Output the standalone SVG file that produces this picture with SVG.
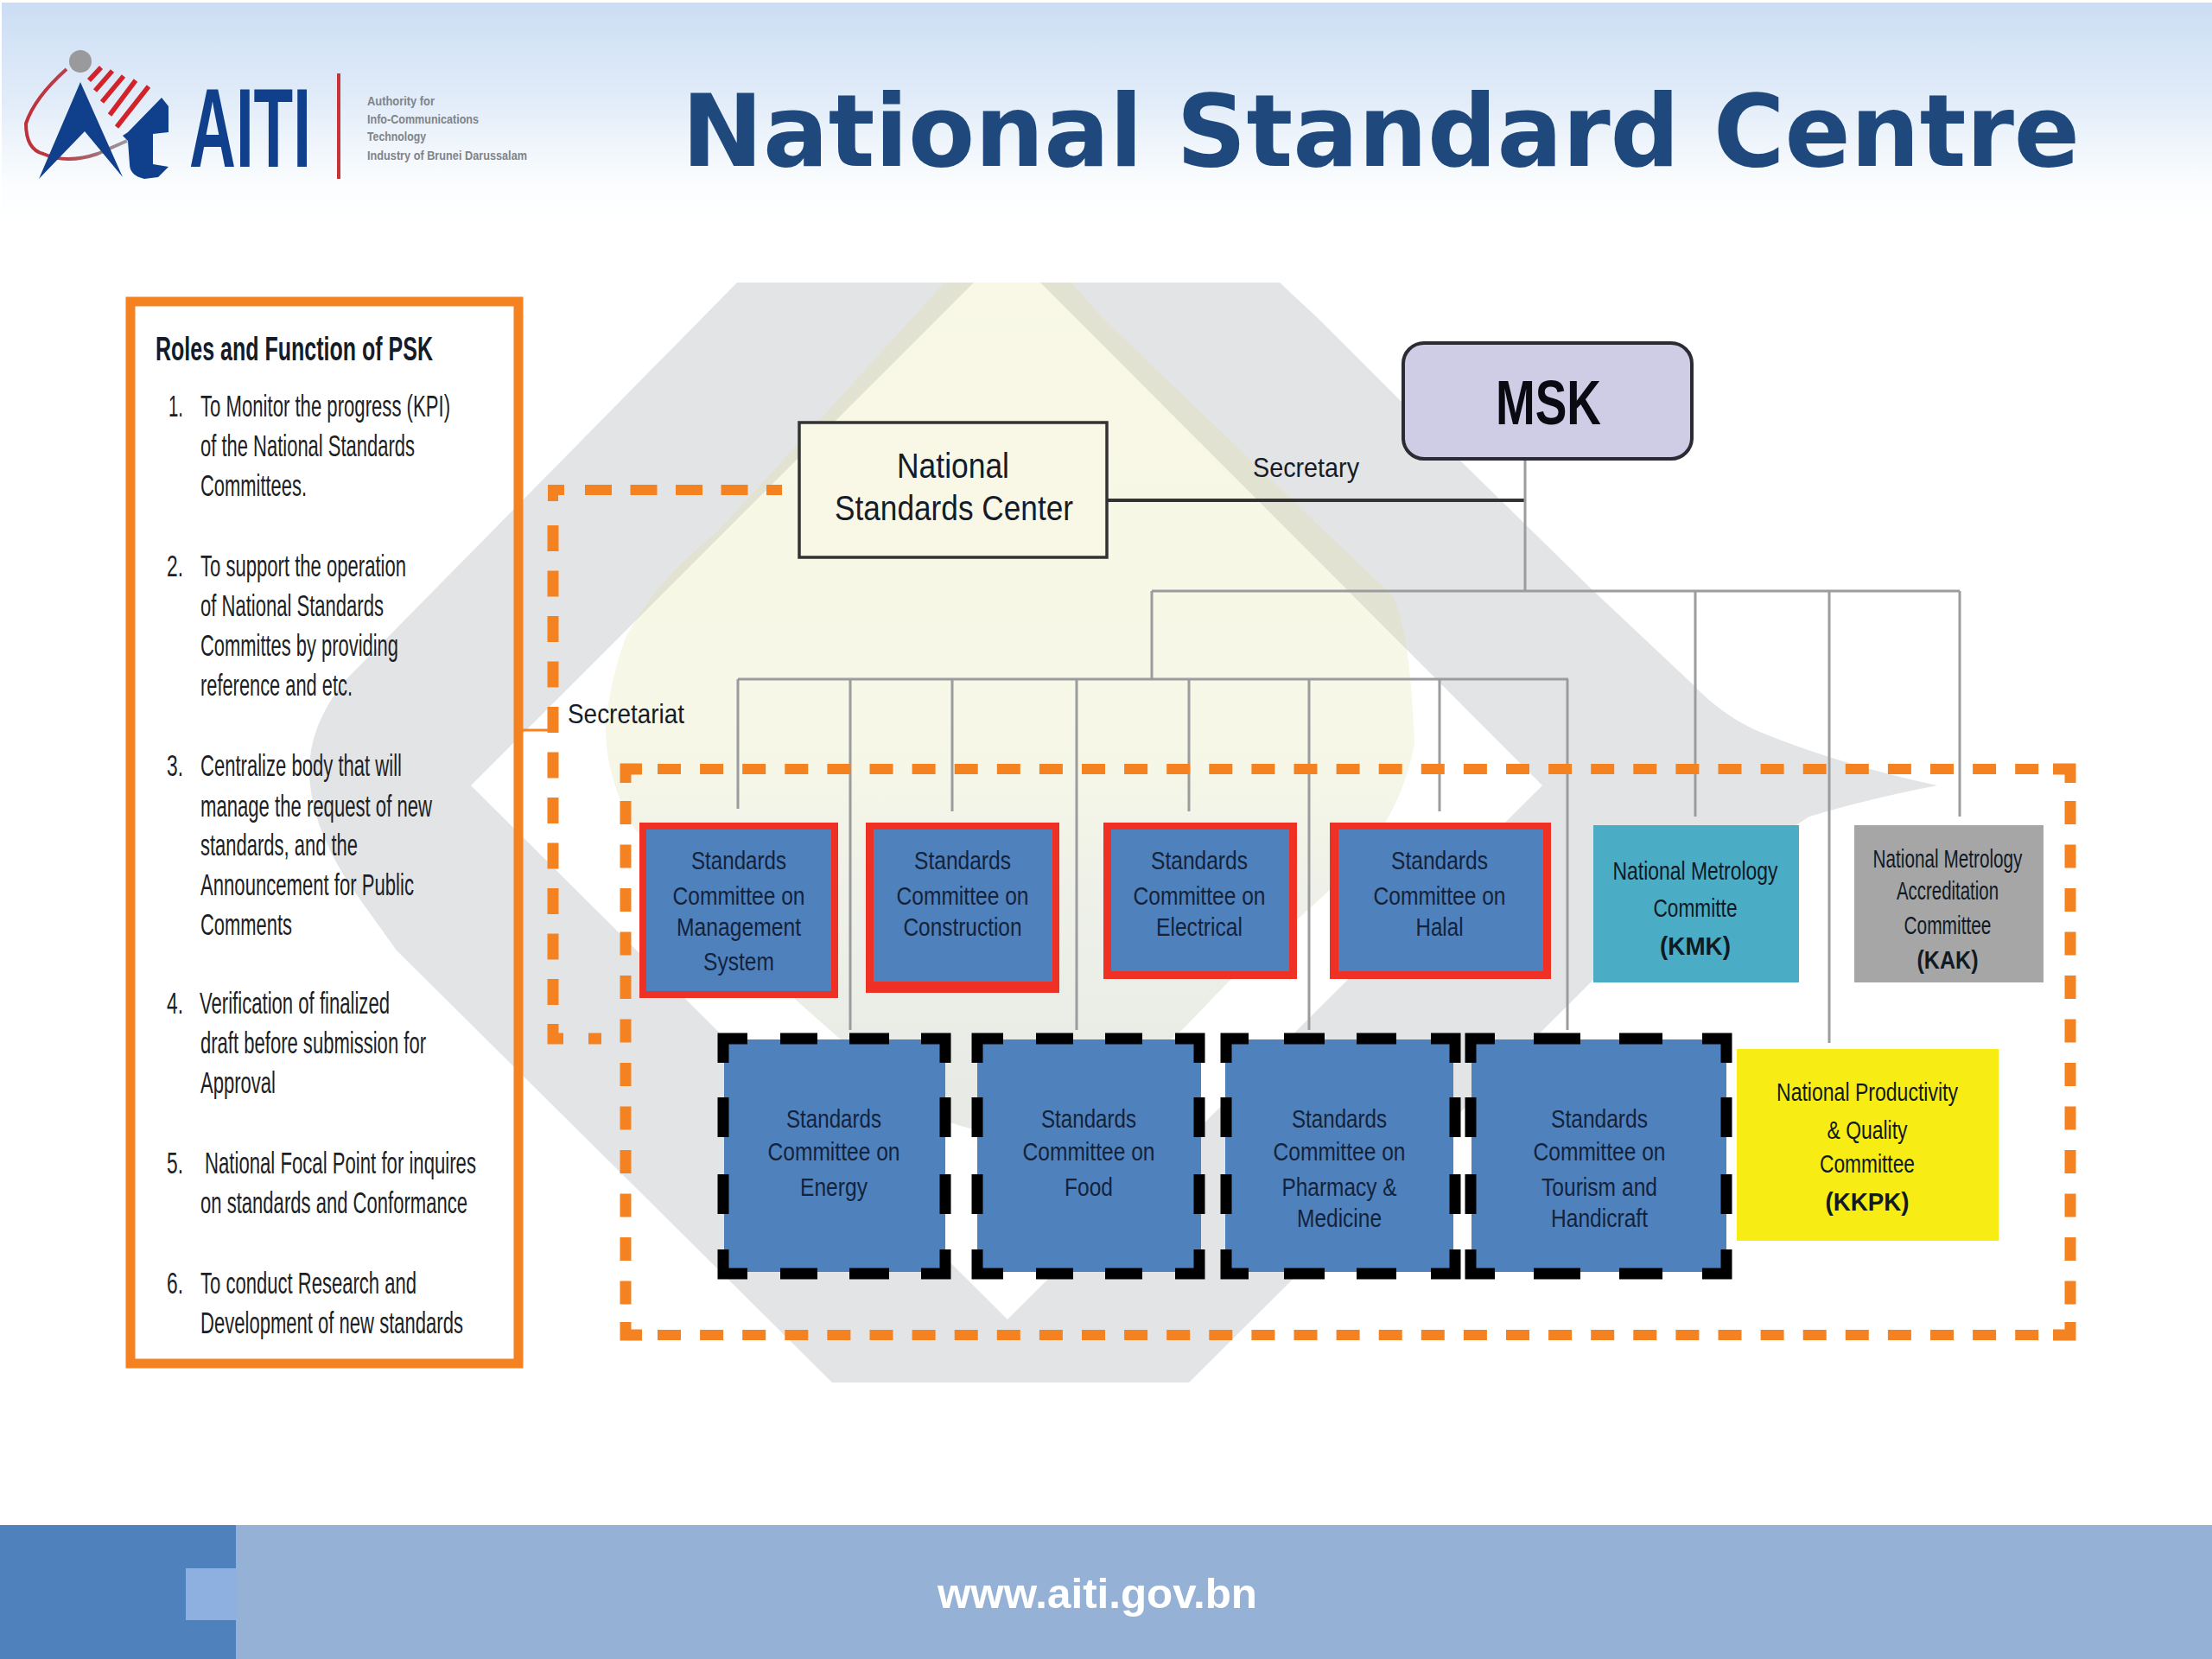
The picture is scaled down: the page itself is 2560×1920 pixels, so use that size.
<svg xmlns="http://www.w3.org/2000/svg" width="2560" height="1920" viewBox="0 0 2560 1920">
<style>
text{font-family:"Liberation Sans",Arial,sans-serif;fill:#141c2a}
.li{font-size:35px;fill:#1c1f26}
.c{font-size:29px;text-anchor:middle;fill:#14233c}
.k{font-size:30px;text-anchor:middle;fill:#101a24}
.s{font-size:15px;fill:#7f8489;font-weight:bold}
.b{font-weight:bold}
.g{fill:none;stroke:#9a9c9e;stroke-width:3}
.d{fill:none;stroke:#f58220;stroke-linejoin:miter}
.bk{fill:none;stroke:#000;stroke-width:13}
.red{fill:#ee3124}
.blue{fill:#4f81bd}
</style>
<defs>
<linearGradient id="hd" x1="0" y1="0" x2="0" y2="1"><stop offset="0" stop-color="#cbddf4"/><stop offset=".45" stop-color="#e3edf9"/><stop offset=".8" stop-color="#fbfdfe"/><stop offset="1" stop-color="#fff"/></linearGradient>
<linearGradient id="lobe" x1="0" y1="0" x2="0" y2="1"><stop offset="0" stop-color="#e1dc82" stop-opacity=".2"/><stop offset=".55" stop-color="#d6dc90" stop-opacity=".22"/><stop offset=".75" stop-color="#a8b490" stop-opacity=".2"/><stop offset="1" stop-color="#98a490" stop-opacity=".24"/></linearGradient>
<linearGradient id="ring" x1="0" y1="0" x2="1" y2="0"><stop offset="0" stop-color="#c0303a"/><stop offset=".4" stop-color="#b8404a"/><stop offset=".75" stop-color="#a07880"/><stop offset="1" stop-color="#9a9a9e"/></linearGradient>
</defs>
<rect width="2560" height="1920" fill="#fff"/>
<rect id="header-band" x="2" y="3" width="2558" height="262" fill="url(#hd)"/>
<g id="background">
<path fill="#e3e4e6" fill-rule="evenodd" d="M853,327H1481L1527,370L1695,538L1840,680L1958,791Q1995,830 2039,848Q2130,885 2242,909Q2160,925 2094,945Q1960,1030 1841,1137L1376,1600H963L459,1100L416,1040Q358,960 358,891Q358,840 398,789L594,590ZM1127,327L545,909L1166,1527L1785,909L1204,327Z"/>
<path fill="url(#lobe)" d="M1093,327H1240L1278,370L1613,691Q1632,735 1637,860Q1620,960 1529,1039L1421,1137L1370,1190Q1240,1306 1160,1310Q1110,1310 1060,1280L923,1159L735,960Q700,900 701,840Q705,790 724,738Q760,670 830,616Z"/>
</g>
<g id="logo">
<path d="M77,80Q40,113 30,143Q30,173 50,178Q77,190 113,178L147,163" fill="none" stroke="url(#ring)" stroke-width="4"/>
<circle cx="93" cy="71" r="13" fill="#9a9a9c"/>
<path fill="none" stroke="#d2232a" stroke-width="5.5" d="M103,93L117,78M110,105L130,82M118,118L143,88M127,133L157,93M135,147L172,100"/>
<path d="M93,95L45,207L98,152L142,205Z" fill="#10408c"/>
<path d="M148,153L187,113L195,123V153L177,155V190L195,193L183,205L167,207Q150,203 150,190L148,163L142,157Z" fill="#10408c"/>
<text transform="translate(219,193) scale(.574,1)" font-size="130" class="b" style="fill:#10408c">AITI</text>
<rect x="390" y="85" width="4" height="122" fill="#c8333a"/>
<text class="s" x="425" y="122" textLength="78" lengthAdjust="spacingAndGlyphs">Authority for</text>
<text class="s" x="425" y="143" textLength="129" lengthAdjust="spacingAndGlyphs">Info-Communications</text>
<text class="s" x="425" y="163" textLength="68" lengthAdjust="spacingAndGlyphs">Technology</text>
<text class="s" x="425" y="185" textLength="185" lengthAdjust="spacingAndGlyphs">Industry of Brunei Darussalam</text>
</g>
<text id="title" x="789" y="192" font-size="116" textLength="1618" lengthAdjust="spacingAndGlyphs" style="font-family:'DejaVu Sans',sans-serif;font-weight:bold;fill:#1f497d">National Standard Centre</text>

<g id="connectors">
<path d="M1281,579H1765" fill="none" stroke="#333" stroke-width="4"/>
<path class="g" d="M1765,531V684M1333,684H2268M1333,684V786M854,786H1815"/>
<path class="g" d="M1962,684V945M2117,684V1207M2268,684V945M854,786V936M984,786V1192M1102,786V939M1246,786V1192M1376,786V939M1515,786V1192M1666,786V939M1814,786V1192"/>
<path d="M600,845H645" fill="none" stroke="#f58220" stroke-width="3"/>
</g>
<g id="secretariat-dashed" class="d">
<path stroke-width="12" d="M640,580V567H653"/>
<path stroke-width="12" stroke-dasharray="31 21.5" d="M677,567H905"/>
<path stroke-width="13" stroke-dasharray="30 22.5" d="M640,608V1185"/>
<path stroke-width="13" d="M640,1185V1202H652"/>
<path stroke-width="13" d="M681,1202H696"/>
</g>
<g id="committees-dashed" class="d">
<path stroke-width="13" d="M724,906V890H743M2376,890H2396V906M724,1530V1545H743M2376,1545H2396V1530"/>
<path stroke-width="12" stroke-dasharray="27 22.1" d="M761,890H2376M761,1545H2376"/>
<path stroke-width="13" stroke-dasharray="27 23.5" d="M724,927V1515M2396,927V1515"/>
</g>

<g id="panel-roles">
<path fill="none" stroke="#f58220" d="M151,349H600V1578H151Z" stroke-width="11"/>
<text x="180" y="417" font-size="38" class="b" textLength="321" lengthAdjust="spacingAndGlyphs">Roles and Function of PSK</text>
<text class="li" x="195" y="482" textLength="17" lengthAdjust="spacingAndGlyphs">1.</text>
<text class="li" x="232" y="482" textLength="289" lengthAdjust="spacingAndGlyphs">To Monitor the progress (KPI)</text>
<text class="li" x="232" y="528" textLength="248" lengthAdjust="spacingAndGlyphs">of the National Standards</text>
<text class="li" x="232" y="574" textLength="123" lengthAdjust="spacingAndGlyphs">Committees.</text>
<text class="li" x="193" y="667" textLength="19" lengthAdjust="spacingAndGlyphs">2.</text>
<text class="li" x="232" y="667" textLength="238" lengthAdjust="spacingAndGlyphs">To support the operation</text>
<text class="li" x="232" y="713" textLength="212" lengthAdjust="spacingAndGlyphs">of National Standards</text>
<text class="li" x="232" y="759" textLength="229" lengthAdjust="spacingAndGlyphs">Committes by providing</text>
<text class="li" x="232" y="805" textLength="176" lengthAdjust="spacingAndGlyphs">reference and etc.</text>
<text class="li" x="193" y="898" textLength="19" lengthAdjust="spacingAndGlyphs">3.</text>
<text class="li" x="232" y="898" textLength="233" lengthAdjust="spacingAndGlyphs">Centralize body that will</text>
<text class="li" x="232" y="945" textLength="268" lengthAdjust="spacingAndGlyphs">manage the request of new</text>
<text class="li" x="232" y="990" textLength="182" lengthAdjust="spacingAndGlyphs">standards, and the</text>
<text class="li" x="232" y="1036" textLength="247" lengthAdjust="spacingAndGlyphs">Announcement for Public</text>
<text class="li" x="232" y="1082" textLength="106" lengthAdjust="spacingAndGlyphs">Comments</text>
<text class="li" x="193" y="1173" textLength="19" lengthAdjust="spacingAndGlyphs">4.</text>
<text class="li" x="231" y="1173" textLength="220" lengthAdjust="spacingAndGlyphs">Verification of finalized</text>
<text class="li" x="232" y="1219" textLength="261" lengthAdjust="spacingAndGlyphs">draft before submission for</text>
<text class="li" x="232" y="1265" textLength="87" lengthAdjust="spacingAndGlyphs">Approval</text>
<text class="li" x="193" y="1358" textLength="19" lengthAdjust="spacingAndGlyphs">5.</text>
<text class="li" x="237" y="1358" textLength="314" lengthAdjust="spacingAndGlyphs">National Focal Point for inquires</text>
<text class="li" x="232" y="1404" textLength="309" lengthAdjust="spacingAndGlyphs">on standards and Conformance</text>
<text class="li" x="193" y="1497" textLength="19" lengthAdjust="spacingAndGlyphs">6.</text>
<text class="li" x="232" y="1497" textLength="250" lengthAdjust="spacingAndGlyphs">To conduct Research and</text>
<text class="li" x="232" y="1543" textLength="304" lengthAdjust="spacingAndGlyphs">Development of new standards</text>
</g>
<text id="label-secretariat" x="657" y="837" font-size="32" textLength="135" lengthAdjust="spacingAndGlyphs">Secretariat</text>
<text id="label-secretary" x="1450" y="552" font-size="32" textLength="123" lengthAdjust="spacingAndGlyphs">Secretary</text>

<g id="node-msk">
<rect x="1624" y="397" width="334" height="134" rx="24" fill="#cfcce6" stroke="#2b2b33" stroke-width="4"/>
<text x="1731" y="491" font-size="72" class="b" textLength="122" lengthAdjust="spacingAndGlyphs" style="fill:#0a0a12">MSK</text>
</g>
<g id="node-nsc">
<rect x="925" y="489" width="356" height="156" fill="#f9f8e6" stroke="#333" stroke-width="3.5"/>
<text x="1038" y="553" font-size="40" textLength="130" lengthAdjust="spacingAndGlyphs">National</text>
<text x="966" y="602" font-size="40" textLength="276" lengthAdjust="spacingAndGlyphs">Standards Center</text>
</g>

<g id="node-management">
<rect class="red" x="740" y="952" width="230" height="203"/><rect class="blue" x="748" y="960" width="214" height="187"/>
<text class="c" x="855" y="1006" textLength="110" lengthAdjust="spacingAndGlyphs">Standards</text>
<text class="c" x="855" y="1047" textLength="153" lengthAdjust="spacingAndGlyphs">Committee on</text>
<text class="c" x="855" y="1083" textLength="144" lengthAdjust="spacingAndGlyphs">Management</text>
<text class="c" x="855" y="1123" textLength="82" lengthAdjust="spacingAndGlyphs">System</text>
</g>
<g id="node-construction">
<rect class="red" x="1002" y="952" width="224" height="197"/><rect class="blue" x="1011" y="960" width="207" height="176"/>
<text class="c" x="1114" y="1006" textLength="112" lengthAdjust="spacingAndGlyphs">Standards</text>
<text class="c" x="1114" y="1047" textLength="153" lengthAdjust="spacingAndGlyphs">Committee on</text>
<text class="c" x="1114" y="1083" textLength="137" lengthAdjust="spacingAndGlyphs">Construction</text>
</g>
<g id="node-electrical">
<rect class="red" x="1277" y="952" width="224" height="181"/><rect class="blue" x="1286" y="960" width="206" height="164"/>
<text class="c" x="1388" y="1006" textLength="112" lengthAdjust="spacingAndGlyphs">Standards</text>
<text class="c" x="1388" y="1047" textLength="153" lengthAdjust="spacingAndGlyphs">Committee on</text>
<text class="c" x="1388" y="1083" textLength="100" lengthAdjust="spacingAndGlyphs">Electrical</text>
</g>
<g id="node-halal">
<rect class="red" x="1539" y="952" width="256" height="181"/><rect class="blue" x="1549" y="960" width="237" height="164"/>
<text class="c" x="1666" y="1006" textLength="112" lengthAdjust="spacingAndGlyphs">Standards</text>
<text class="c" x="1666" y="1047" textLength="153" lengthAdjust="spacingAndGlyphs">Committee on</text>
<text class="c" x="1666" y="1083" textLength="55" lengthAdjust="spacingAndGlyphs">Halal</text>
</g>
<g id="node-kmk">
<rect x="1844" y="955" width="238" height="182" fill="#4bacc6"/>
<text class="k" x="1962" y="1018" textLength="191" lengthAdjust="spacingAndGlyphs">National Metrology</text>
<text class="k" x="1962" y="1061" textLength="97" lengthAdjust="spacingAndGlyphs">Committe</text>
<text class="k b" x="1962" y="1105" textLength="82" lengthAdjust="spacingAndGlyphs">(KMK)</text>
</g>
<g id="node-kak">
<rect x="2146" y="955" width="219" height="182" fill="#a6a6a6"/>
<text class="k" x="2254" y="1004" textLength="173" lengthAdjust="spacingAndGlyphs">National Metrology</text>
<text class="k" x="2254" y="1041" textLength="118" lengthAdjust="spacingAndGlyphs">Accreditation</text>
<text class="k" x="2254" y="1081" textLength="101" lengthAdjust="spacingAndGlyphs">Committee</text>
<text class="k b" x="2254" y="1121" textLength="71" lengthAdjust="spacingAndGlyphs">(KAK)</text>
</g>
<g id="node-kkpk">
<rect x="2010" y="1214" width="303" height="222" fill="#f7ec13"/>
<text class="k" x="2161" y="1274" textLength="210" lengthAdjust="spacingAndGlyphs">National Productivity</text>
<text class="k" x="2161" y="1318" textLength="93" lengthAdjust="spacingAndGlyphs">&amp; Quality</text>
<text class="k" x="2161" y="1357" textLength="110" lengthAdjust="spacingAndGlyphs">Committee</text>
<text class="k b" x="2161" y="1401" textLength="97" lengthAdjust="spacingAndGlyphs">(KKPK)</text>
</g>

<g id="node-energy">
<rect class="blue" x="838" y="1203" width="256" height="269"/>
<path class="bk" d="M837,1230V1202H865M1066,1202H1094V1230M837,1446V1474H865M1066,1474H1094V1446M903,1202H946M983,1202H1029M903,1474H946M983,1474H1029M837,1270V1316M837,1359V1405M1094,1270V1316M1094,1359V1405"/>
<text class="c" x="965" y="1305" textLength="110" lengthAdjust="spacingAndGlyphs">Standards</text>
<text class="c" x="965" y="1343" textLength="153" lengthAdjust="spacingAndGlyphs">Committee on</text>
<text class="c" x="965" y="1384" textLength="78" lengthAdjust="spacingAndGlyphs">Energy</text>
</g>
<g id="node-food">
<rect class="blue" x="1131" y="1203" width="259" height="269"/>
<path class="bk" d="M1131,1230V1202H1161M1360,1202H1388V1230M1131,1446V1474H1161M1360,1474H1388V1446M1199,1202H1242M1279,1202H1322M1199,1474H1242M1279,1474H1322M1131,1270V1316M1131,1359V1405M1388,1270V1316M1388,1359V1405"/>
<text class="c" x="1260" y="1305" textLength="110" lengthAdjust="spacingAndGlyphs">Standards</text>
<text class="c" x="1260" y="1343" textLength="153" lengthAdjust="spacingAndGlyphs">Committee on</text>
<text class="c" x="1260" y="1384" textLength="56" lengthAdjust="spacingAndGlyphs">Food</text>
</g>
<g id="node-pharmacy">
<rect class="blue" x="1418" y="1203" width="264" height="269"/>
<path class="bk" d="M1419,1230V1202H1445M1656,1202H1684V1230M1419,1446V1474H1445M1656,1474H1684V1446M1486,1202H1533M1570,1202H1616M1486,1474H1533M1570,1474H1616M1419,1270V1316M1419,1359V1405M1684,1270V1316M1684,1359V1405"/>
<text class="c" x="1550" y="1305" textLength="110" lengthAdjust="spacingAndGlyphs">Standards</text>
<text class="c" x="1550" y="1343" textLength="153" lengthAdjust="spacingAndGlyphs">Committee on</text>
<text class="c" x="1550" y="1384" textLength="133" lengthAdjust="spacingAndGlyphs">Pharmacy &amp;</text>
<text class="c" x="1550" y="1420" textLength="98" lengthAdjust="spacingAndGlyphs">Medicine</text>
</g>
<g id="node-tourism">
<rect class="blue" x="1703" y="1203" width="295" height="269"/>
<path class="bk" d="M1702,1230V1202H1730M1970,1202H1998V1230M1702,1446V1474H1730M1970,1474H1998V1446M1775,1202H1829M1874,1202H1924M1775,1474H1829M1874,1474H1924M1702,1270V1316M1702,1359V1405M1998,1270V1316M1998,1359V1405"/>
<text class="c" x="1851" y="1305" textLength="112" lengthAdjust="spacingAndGlyphs">Standards</text>
<text class="c" x="1851" y="1343" textLength="153" lengthAdjust="spacingAndGlyphs">Committee on</text>
<text class="c" x="1851" y="1384" textLength="134" lengthAdjust="spacingAndGlyphs">Tourism and</text>
<text class="c" x="1851" y="1420" textLength="112" lengthAdjust="spacingAndGlyphs">Handicraft</text>
</g>

<g id="footer">
<rect y="1765" width="2560" height="155" fill="#95b2d6"/>
<rect y="1765" width="273" height="155" fill="#4f81bd"/>
<rect x="215" y="1815" width="58" height="60" fill="#8db0e0"/>
<text x="1085" y="1861" font-size="48" class="b" textLength="370" lengthAdjust="spacingAndGlyphs" style="fill:#fff">www.aiti.gov.bn</text>
</g>
</svg>
